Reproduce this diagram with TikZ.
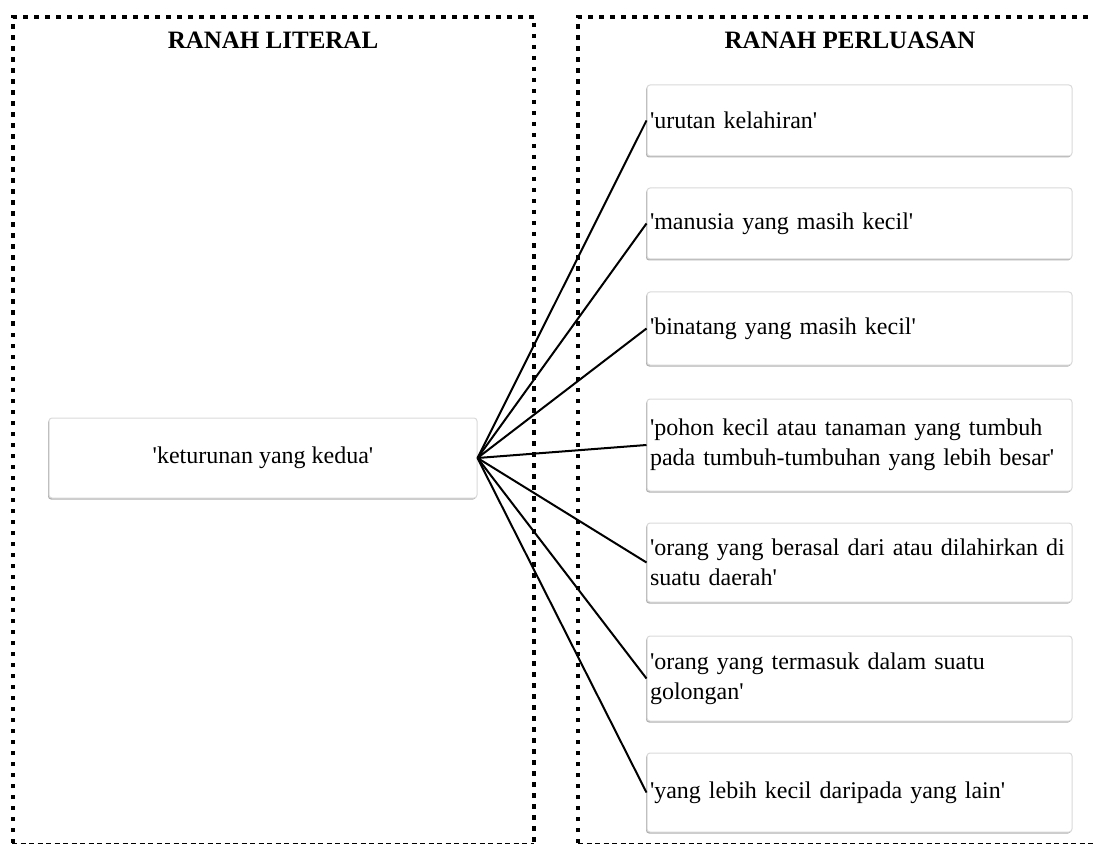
\documentclass[tikz,border=0pt]{standalone}
\usepackage{fontspec}
\setmainfont{Liberation Serif}
\newcommand{\myq}{\textquotesingle}
\begin{document}
\begin{tikzpicture}[x=1pt,y=-1pt,
  dotborder/.style={line width=4.5pt, dash pattern=on 4.5pt off 6.5pt},
  dashborder/.style={line width=1.5pt, dash pattern=on 5pt off 3.5pt},
  boxbase/.style={draw=gray!30, fill=white, rounded corners=3pt, line width=1pt,
    preaction={fill=gray!60, transform canvas={xshift=-1pt, yshift=-1.5pt}},
    font=\fontsize{24}{30}\selectfont, inner ysep=0pt},
  sensebox/.style={boxbase, align=left, text width=419pt, inner xsep=3pt, anchor=center},
  litbox/.style={boxbase, align=center, minimum width=428pt, minimum height=80pt, anchor=center},
  title/.style={font=\fontsize{25}{30}\selectfont\bfseries, anchor=base},
  link/.style={line width=2pt, black}]
\useasboundingbox (0,0) rectangle (1093,845);
% column frames
\draw[dotborder] (13,843) -- (13,17) -- (534,17) -- (534,843);
\draw[dashborder] (12,843.5) -- (534,843.5);
\draw[dotborder] (578,843) -- (578,17) -- (1100,17);
\draw[dashborder] (578,843.5) -- (1100,843.5);
% titles
\node[title] (t1) at (273,49) {RANAH LITERAL};
\node[title] (t2) at (850,49) {RANAH PERLUASAN};
% literal
\node[litbox] (lit) at (263,458) {\myq keturunan yang kedua\myq};
% extensions
\node[sensebox, minimum height=71pt] (s1) at (859.5,120.5) {\myq urutan kelahiran\myq};
\node[sensebox, minimum height=71pt] (s2) at (859.5,223.5) {\myq manusia yang masih kecil\myq};
\node[sensebox, minimum height=73pt] (s3) at (859.5,328.5) {\myq binatang yang masih kecil\myq};
\node[sensebox, minimum height=92pt] (s4) at (859.5,445) {\myq pohon kecil atau tanaman yang tumbuh\\pada tumbuh-tumbuhan yang lebih besar\myq};
\node[sensebox, minimum height=79pt] (s5) at (859.5,562.5) {\myq orang yang berasal dari atau dilahirkan di\\suatu daerah\myq};
\node[sensebox, minimum height=85pt] (s6) at (859.5,678.5) {\myq orang yang termasuk dalam suatu\\golongan\myq};
\node[sensebox, minimum height=79pt] (s7) at (859.5,792.5) {\myq yang lebih kecil daripada yang lain\myq};
% links
\foreach \k in {1,...,7} {
  \draw[link] (lit.east) -- (s\k.west);
}
\end{tikzpicture}
\end{document}
